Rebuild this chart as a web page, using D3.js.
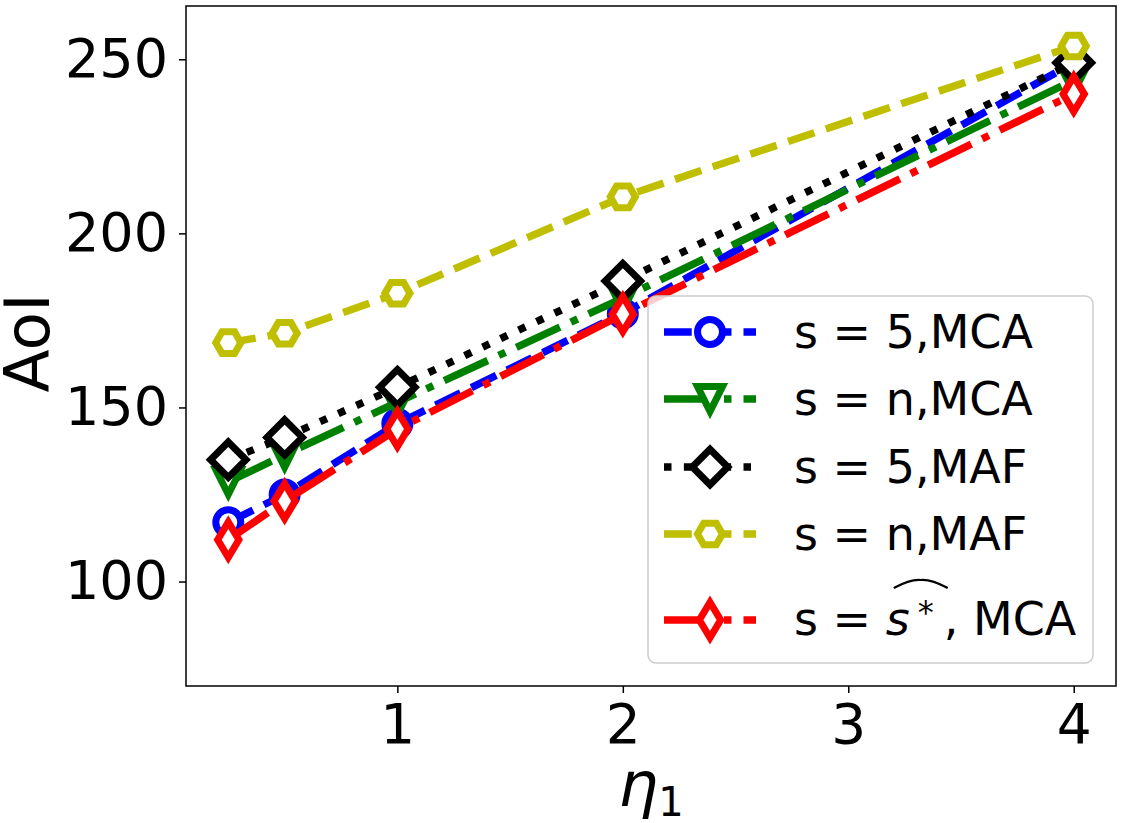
<!DOCTYPE html>
<html>
<head>
<meta charset="utf-8">
<script src="https://cdn.jsdelivr.net/npm/d3@7"></script>
<style>
  body { margin: 0; background: #fff; }
  svg text { font-family: "DejaVu Sans", sans-serif; }
</style>
</head>
<body>
<svg id="chart" width="1125" height="823"></svg>
<script>
// data
const etaVals = [0.25, 0.5, 1, 2, 4];
const s5MCA = [117, 125, 145.3, 177, 249];
const snMCA = [128.6, 136.4, 151.5, 181.4, 244];
const s5MAF = [135, 141.4, 155.8, 186.3, 249];
const snMAF = [168.6, 171.3, 182.8, 210.5, 253.8];
const sStarMCA = [112, 123.1, 143.8, 176.8, 240];
const yTicks = [100, 150, 200, 250];
const xTicks = [1, 2, 3, 4];

const series = [
  { name: "s = 5,MCA", values: s5MCA, color: "#0000ff", dash: "dashed", marker: "circle" },
  { name: "s = n,MCA", values: snMCA, color: "#008000", dash: "dashdot", marker: "tridown" },
  { name: "s = 5,MAF", values: s5MAF, color: "#000000", dash: "dotted", marker: "diamond" },
  { name: "s = n,MAF", values: snMAF, color: "#bfbf00", dash: "dashed", marker: "hexagon" },
  { name: "hat", values: sStarMCA, color: "#ff0000", dash: "dashdot", marker: "thindiamond" }
];

const lw = 7.5, ms = 25, mew = 7;
const dashes = {
  dashed: [3.7, 1.6].map(d => d * lw).join(","),
  dashdot: [6.4, 1.6, 1, 1.6].map(d => d * lw).join(","),
  dotted: [1, 1.65].map(d => d * lw).join(",")
};

// marker outlines, centered on 0,0
function markerPath(kind) {
  const h = ms / 2;
  if (kind === "circle") {
    return `M${h},0A${h},${h} 0 1,1 ${-h},0A${h},${h} 0 1,1 ${h},0Z`;
  }
  if (kind === "tridown") {
    return `M${-h},${-h}L${h},${-h}L0,${h}Z`;
  }
  if (kind === "diamond" || kind === "thindiamond") {
    const r = ms * Math.SQRT1_2;
    const w = kind === "diamond" ? r : r * 0.6;
    return `M0,${-r}L${w},0L0,${r}L${-w},0Z`;
  }
  if (kind === "hexagon") {
    const pts = d3.range(6).map(i => {
      const a = i * Math.PI / 3;
      return [h * Math.cos(a), h * Math.sin(a)];
    });
    return "M" + pts.map(p => p.join(",")).join("L") + "Z";
  }
}

const svg = d3.select("#chart");
const margin = { left: 186, right: 1116, top: 6, bottom: 686 };

const x = d3.scaleLinear().domain([0.0625, 4.1875]).range([margin.left, margin.right]);
const y = d3.scaleLinear().domain([70, 265.3]).range([margin.bottom, margin.top]);

// axes
const xAxis = svg.append("g")
  .attr("transform", `translate(0,${margin.bottom})`)
  .call(d3.axisBottom(x).tickValues(xTicks).tickFormat(d3.format("d")).tickSize(7).tickPadding(11));
const yAxis = svg.append("g")
  .attr("transform", `translate(${margin.left},0)`)
  .call(d3.axisLeft(y).tickValues(yTicks).tickFormat(d3.format("d")).tickSize(7).tickPadding(11));

[xAxis, yAxis].forEach(a => {
  a.select(".domain").remove();
  a.selectAll(".tick line").attr("stroke", "#000").attr("stroke-width", 1.5);
  a.selectAll(".tick text").attr("fill", "#000").style("font-size", "54px");
});
xAxis.selectAll(".tick text").style("font-size", "55px");

// lines + markers
const line = d3.line().x((d, i) => x(etaVals[i])).y(d => y(d));
const plot = svg.append("g");
series.forEach(s => {
  const g = plot.append("g");
  g.append("path")
    .datum(s.values)
    .attr("d", line)
    .attr("fill", "none")
    .attr("stroke", s.color)
    .attr("stroke-width", lw)
    .attr("stroke-dasharray", dashes[s.dash]);
  g.selectAll("path.mk")
    .data(s.values)
    .enter().append("path")
    .attr("class", "mk")
    .attr("d", markerPath(s.marker))
    .attr("transform", (d, i) => `translate(${x(etaVals[i])},${y(d)})`)
    .attr("fill", "#fff")
    .attr("stroke", s.color)
    .attr("stroke-width", mew);
});

// frame
svg.append("rect")
  .attr("x", margin.left).attr("y", margin.top)
  .attr("width", margin.right - margin.left).attr("height", margin.bottom - margin.top)
  .attr("fill", "none").attr("stroke", "#000").attr("stroke-width", 1.5);

// axis titles
svg.append("text")
  .attr("transform", "translate(49,343) rotate(-90)")
  .attr("text-anchor", "middle")
  .style("font-size", "63px")
  .text("AoI");

const xl = svg.append("text")
  .attr("x", 651).attr("y", 806)
  .attr("text-anchor", "middle")
  .style("font-size", "63px");
xl.append("tspan").style("font-style", "italic").text("η");
xl.append("tspan").attr("dy", 10).style("font-size", "40px").text("1");

// legend
const legRows = [332, 399, 467, 534, 620];
const leg = svg.append("g");
leg.append("rect")
  .attr("x", 648).attr("y", 296).attr("width", 445).attr("height", 367)
  .attr("rx", 8)
  .attr("fill", "#fff").attr("fill-opacity", 0.8)
  .attr("stroke", "#cccccc").attr("stroke-width", 1.5);

series.forEach((s, i) => {
  const cy = legRows[i];
  leg.append("path")
    .attr("d", `M664,${cy}L756,${cy}`)
    .attr("stroke", s.color)
    .attr("stroke-width", lw)
    .attr("stroke-dasharray", dashes[s.dash]);
  leg.append("path")
    .attr("d", markerPath(s.marker))
    .attr("transform", `translate(710,${cy})`)
    .attr("fill", "#fff")
    .attr("stroke", s.color)
    .attr("stroke-width", mew);

  const t = leg.append("text")
    .attr("x", 794).attr("y", cy + 16)
    .style("font-size", "46px");
  if (s.name !== "hat") {
    t.text(s.name);
  } else {
    t.attr("y", cy + 15);
    t.append("tspan").text("s = ");
    t.append("tspan").style("font-style", "italic").text("s");
    t.append("tspan").attr("dy", -12).attr("dx", 8).style("font-size", "32px").text("*");
    t.append("tspan").attr("dy", 12).attr("dx", 10).text(", MCA");
    // wide hat over s*
    const node = t.node();
    const x0 = node.getStartPositionOfChar(4).x + 8;
    const x1 = node.getEndPositionOfChar(5).x + 14;
    const xm = (x0 + x1) / 2;
    leg.append("path")
      .attr("d", `M${x0},${cy - 32}Q${xm - 10},${cy - 41} ${xm},${cy - 40}Q${xm + 10},${cy - 41} ${x1},${cy - 32}`)
      .attr("fill", "none")
      .attr("stroke", "#000")
      .attr("stroke-width", 2.2);
  }
});
</script>
</body>
</html>
